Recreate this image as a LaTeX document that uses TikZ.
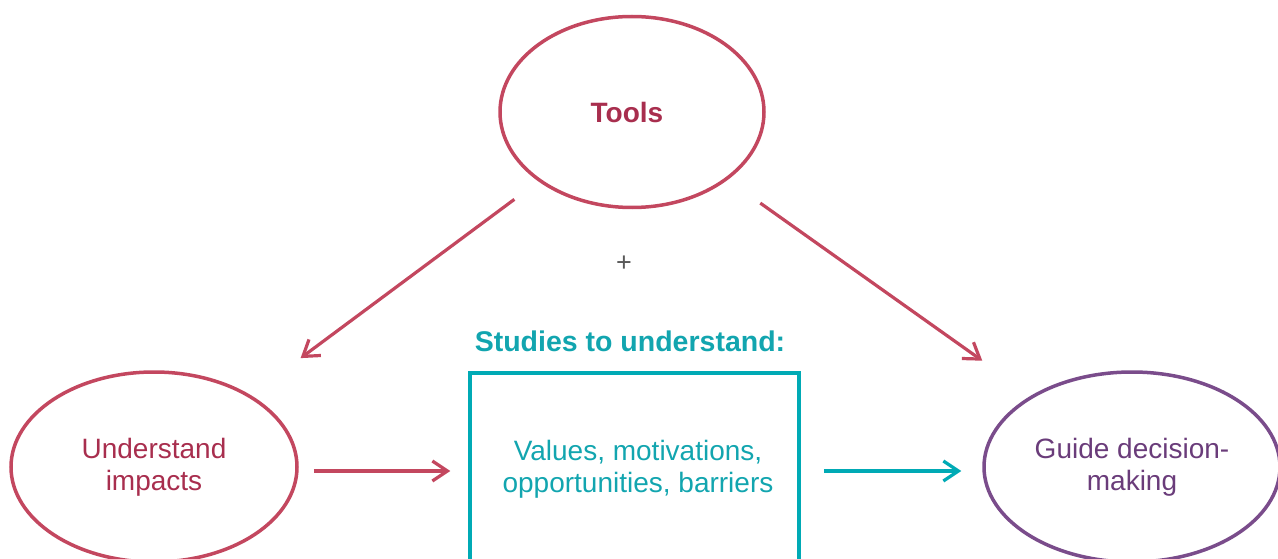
\documentclass[tikz,border=0pt]{standalone}
\usepackage{fontspec}
\setmainfont{Liberation Sans}
\usetikzlibrary{shapes.geometric,arrows.meta}
\definecolor{crimson}{HTML}{C3475F}
\definecolor{crimsontext}{HTML}{A82E4E}
\definecolor{teal}{HTML}{00AAB5}
\definecolor{tealtext}{HTML}{12A5AF}
\definecolor{plum}{HTML}{7A4C8B}
\definecolor{plumtext}{HTML}{6A3C7A}
\tikzset{
  oval/.style={ellipse, draw, line width=3.5pt, inner sep=0pt, align=center,
    font=\fontsize{28}{32}\selectfont},
  panel/.style={rectangle, draw, line width=3.5pt, inner sep=0pt, align=center,
    font=\fontsize{28}{32}\selectfont},
  flow/.style={line width=3.2pt, -{Straight Barb[length=15pt,width=20pt,line width=3.2pt]}},
}
\begin{document}
\begin{tikzpicture}[x=1pt,y=-1pt]
  \useasboundingbox (0,0) rectangle (1278,559);
  \clip (0,0) rectangle (1278,559);
  % the three stages and the tools feeding them
  \node[oval, crimson, text=crimsontext, minimum width=264pt, minimum height=191pt,
        font=\fontsize{28}{32}\selectfont\bfseries] (tools) at (632,112)
        {\hspace*{-10pt}Tools};
  \node[oval, crimson, text=crimsontext, minimum width=286pt, minimum height=190pt]
        (ui) at (154,467) {Understand\\impacts};
  \node[panel, teal, text=tealtext, minimum width=329pt, minimum height=192pt]
        (studies) at (634.5,469) {\hspace*{7pt}Values, motivations,\\\hspace*{7pt}opportunities, barriers};
  \node[oval, plum, text=plumtext, minimum width=296pt, minimum height=190pt]
        (gd) at (1132,467) {Guide decision-\\making};
  % labels
  \node[text=black!65, font=\fontsize{27}{30}\selectfont] (plus) at (624,264) {+};
  \node[text=tealtext, font=\fontsize{28.5}{32}\selectfont\bfseries] (stitle) at (630,341)
        {Studies to understand:};
  % connectors
  \draw[flow, crimson, shorten <=30pt, shorten >=62pt] (tools) -- (ui);
  \draw[flow, crimson, shorten <=40pt, shorten >=60pt] (tools) -- (gd);
  \draw[flow, crimson, shorten <=15pt, shorten >=18pt]
        ([yshift=-4pt]ui.east) -- ([yshift=-2pt]studies.west);
  \draw[flow, teal, shorten <=23pt, shorten >=21pt]
        ([yshift=-2pt]studies.east) -- ([yshift=-4pt]gd.west);
\end{tikzpicture}
\end{document}
